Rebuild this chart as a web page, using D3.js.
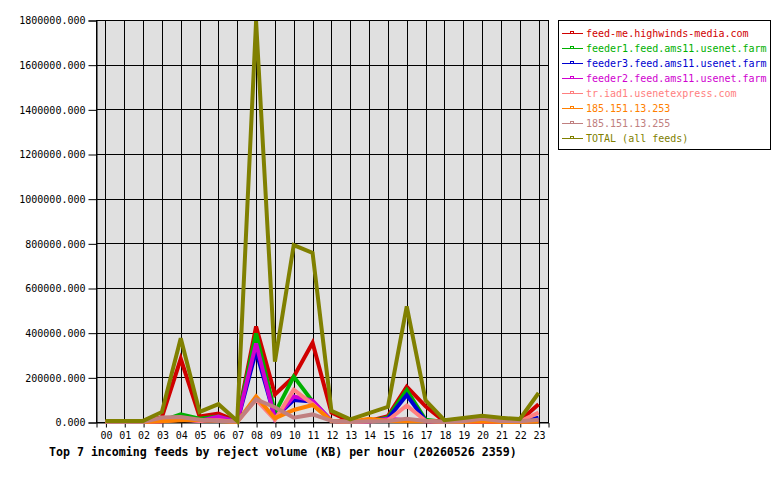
<!DOCTYPE html>
<html>
<head>
<meta charset="utf-8">
<script src="https://cdn.jsdelivr.net/npm/d3@7"></script>
<style>
  body { margin: 0; background: #fff; }
  text { font-family: "DejaVu Sans Mono", "Liberation Mono", monospace; }
</style>
</head>
<body>
<div id="chart"></div>
<script>
// hours on the x axis
const hours = ["00","01","02","03","04","05","06","07","08","09","10","11",
               "12","13","14","15","16","17","18","19","20","21","22","23"];

const feedNames = [
    "feed-me.highwinds-media.com",
    "feeder1.feed.ams11.usenet.farm",
    "feeder3.feed.ams11.usenet.farm",
    "feeder2.feed.ams11.usenet.farm",
    "tr.iad1.usenetexpress.com",
    "185.151.13.253",
    "185.151.13.255",
    "TOTAL (all feeds)"
];

const feedColors = ["#d00000", "#00b000", "#0000d0", "#d000d0",
                    "#ff8080", "#ff8000", "#c08080", "#808000"];

// reject volume (KB) per hour
const feedMe   = [0, 0, 0, 22000, 283000, 25000, 38000, 3000, 428000, 123000, 203000, 355000,
                  42000, 3000, 5000, 26000, 158000, 70000, 2000, 3000, 10000, 5000, 5000, 80000];
const feeder1  = [0, 0, 0, 5000, 34000, 15000, 25000, 0, 397000, 40000, 203000, 92000,
                  5000, 0, 2000, 20000, 143000, 10000, 0, 0, 2000, 0, 0, 5000];
const feeder3  = [0, 0, 0, 3000, 20000, 8000, 15000, 0, 318000, 20000, 98000, 92000,
                  5000, 0, 2000, 15000, 121000, 5000, 0, 0, 0, 0, 0, 19000];
const feeder2  = [0, 0, 0, 3000, 15000, 5000, 24000, 0, 352000, 15000, 114000, 96000,
                  5000, 0, 2000, 15000, 8000, 3000, 0, 0, 0, 0, 0, 5000];
const triad1   = [0, 0, 0, 3000, 10000, 5000, 8000, 0, 100000, 10000, 145000, 80000,
                  3000, 0, 2000, 8000, 74000, 5000, 0, 2000, 10000, 3000, 2000, 42000];
const ip253    = [0, 0, 0, 3000, 8000, 10000, 5000, 0, 114000, 17000, 54000, 76000,
                  5000, 0, 15000, 5000, 3000, 5000, 0, 0, 2000, 0, 0, 2000];
const ip255    = [0, 0, 0, 20000, 22000, 10000, 5000, 2000, 101000, 66000, 19000, 34000,
                  5000, 0, 3000, 5000, 15000, 5000, 0, 3000, 15000, 5000, 3000, 10000];
const total    = [5000, 5000, 5000, 45000, 375000, 45000, 80000, 5000, 1795000, 270000, 792000, 757000,
                  50000, 12000, 40000, 68000, 518000, 97000, 8000, 18000, 28000, 19000, 13000, 130000];

const yTicks = [0, 200000, 400000, 600000, 800000, 1000000, 1200000, 1400000, 1600000, 1800000];

const chartTitle = "Top 7 incoming feeds by reject volume (KB) per hour (20260526 2359)";

const series = [feedMe, feeder1, feeder3, feeder2, triad1, ip253, ip255, total];

const width = 780, height = 480;
const plot = {left: 96, right: 548, top: 20, bottom: 422};

const svg = d3.select("#chart").append("svg")
    .attr("width", width)
    .attr("height", height);

const xScale = d3.scalePoint()
    .domain(hours)
    .range([plot.left, plot.right])
    .padding(0.5);

const yScale = d3.scaleLinear()
    .domain([0, 1800000])
    .range([plot.bottom, plot.top]);

// plot background
svg.append("rect")
    .attr("x", plot.left)
    .attr("y", plot.top)
    .attr("width", plot.right - plot.left)
    .attr("height", plot.bottom - plot.top)
    .attr("fill", "#e0e0e0")
    .attr("stroke", "#000")
    .attr("shape-rendering", "crispEdges");

// grid lines
svg.append("g")
    .selectAll("line")
    .data(hours)
    .join("line")
    .attr("x1", d => Math.round(xScale(d)) + 0.5)
    .attr("x2", d => Math.round(xScale(d)) + 0.5)
    .attr("y1", plot.top)
    .attr("y2", plot.bottom)
    .attr("stroke", "#000");

svg.append("g")
    .selectAll("line")
    .data(yTicks)
    .join("line")
    .attr("x1", plot.left)
    .attr("x2", plot.right)
    .attr("y1", d => Math.round(yScale(d)) + 0.5)
    .attr("y2", d => Math.round(yScale(d)) + 0.5)
    .attr("stroke", "#000");

// axes
const yAxis = svg.append("g")
    .attr("transform", `translate(${plot.left + 0.5},0.5)`)
    .call(d3.axisLeft(yScale).tickValues(yTicks).tickFormat(d3.format(".3f")).tickSize(8).tickPadding(3));

const xAxis = svg.append("g")
    .attr("transform", `translate(0.5,${plot.bottom + 0.5})`)
    .call(d3.axisBottom(xScale).tickSize(5).tickPadding(4));

[xAxis, yAxis].forEach(ax => {
    ax.select(".domain").attr("stroke", "#000");
    ax.selectAll(".tick line").attr("stroke", "#000");
    ax.selectAll("text")
        .attr("fill", "#000")
        .style("font-size", "10px")
        .style("font-family", "'DejaVu Sans Mono', monospace");
});

// series lines
const line = d3.line()
    .x((d, i) => xScale(hours[i]))
    .y(d => yScale(d));

svg.append("g")
    .selectAll("path")
    .data(series)
    .join("path")
    .attr("d", d => line(d))
    .attr("fill", "none")
    .attr("stroke", (d, i) => feedColors[i])
    .attr("stroke-width", 4)
    .attr("stroke-linejoin", "miter");

// legend
const legend = svg.append("g");
legend.append("rect")
    .attr("x", 558.5)
    .attr("y", 20.5)
    .attr("width", 212)
    .attr("height", 129)
    .attr("fill", "#fff")
    .attr("stroke", "#000");

const rows = legend.selectAll("g.row")
    .data(feedNames)
    .join("g")
    .attr("class", "row")
    .attr("transform", (d, i) => `translate(0,${33 + i * 15})`);

rows.append("line")
    .attr("x1", 562).attr("x2", 583)
    .attr("y1", 0.5).attr("y2", 0.5)
    .attr("stroke", (d, i) => feedColors[i]);

rows.append("rect")
    .attr("x", 570.5).attr("y", -1.5)
    .attr("width", 3).attr("height", 2)
    .attr("fill", "none")
    .attr("stroke", (d, i) => feedColors[i]);

rows.append("text")
    .attr("x", 586)
    .attr("y", 4)
    .attr("fill", (d, i) => feedColors[i])
    .style("font-size", "10px")
    .text(d => d);

// title
svg.append("text")
    .attr("x", 49)
    .attr("y", 456)
    .style("font-size", "11.6px")
    .style("font-weight", "bold")
    .attr("fill", "#000")
    .text(chartTitle);
</script>
</body>
</html>
